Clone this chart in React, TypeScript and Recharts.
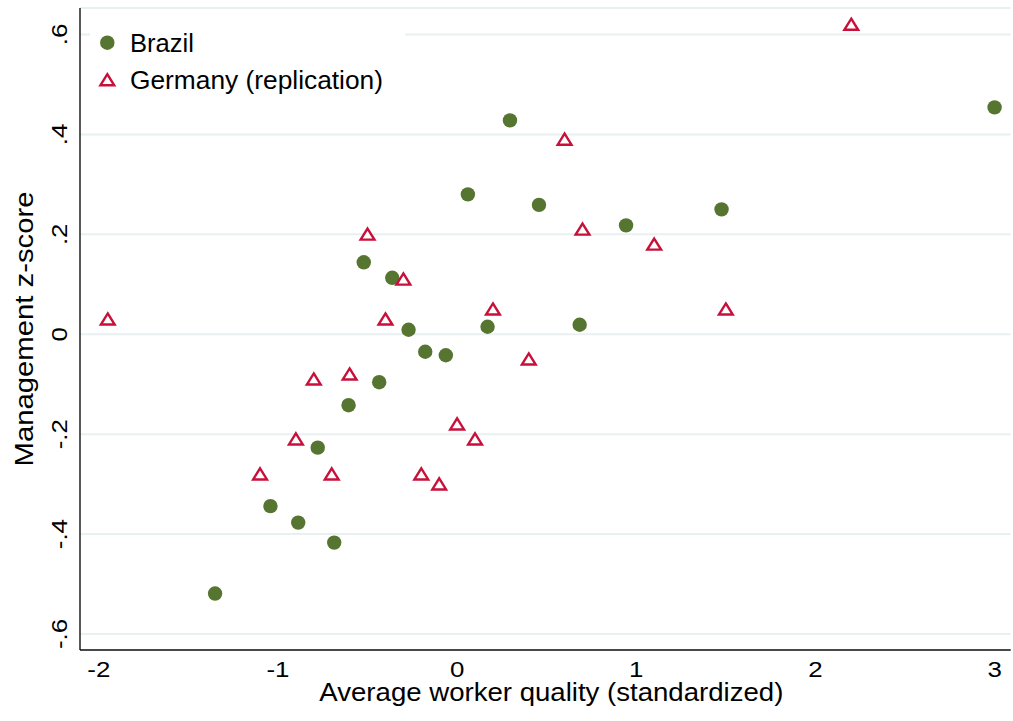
import React from 'react'
import { ScatterChart, Scatter, XAxis, YAxis, CartesianGrid, Legend, Label } from 'recharts'

// Average worker quality (x) vs management z-score (y)
const brazilX = [3.0, 0.295, 0.06, 0.457, 0.943, 1.476, -0.521, -0.362, -0.271, -0.178, -0.063, 0.17, 0.684, -0.435, -0.606, -0.778, -1.042, -0.887, -0.686, -1.351]
const brazilY = [0.454, 0.428, 0.28, 0.259, 0.218, 0.25, 0.144, 0.113, 0.009, -0.035, -0.042, 0.015, 0.019, -0.096, -0.142, -0.227, -0.344, -0.377, -0.417, -0.519]

const germanyX = [2.2, 0.6, -0.5, 0.7, 1.1, -0.3, 0.2, 1.5, -1.95, -0.4, 0.4, -0.8, -0.6, 0.0, 0.1, -0.9, -1.1, -0.7, -0.2, -0.1]
const germanyY = [0.62, 0.39, 0.2, 0.21, 0.18, 0.11, 0.05, 0.05, 0.03, 0.03, -0.05, -0.09, -0.08, -0.18, -0.21, -0.21, -0.28, -0.28, -0.28, -0.3]

const xTicks = [-2, -1, 0, 1, 2, 3]
const yTicks = [-0.6, -0.4, -0.2, 0, 0.2, 0.4, 0.6]

const GREEN = '#567530'
const RED = '#c8103a'
const FONT = 'Liberation Sans, Arial, Helvetica, sans-serif'

// widths of the wide Helvetica-style lettering, used with textLength
const legendWidths = [64, 253]
const TICK_STRETCH = 1.15

const brazil = brazilX.map((x, i) => ({ x, y: brazilY[i] }))
const germany = germanyX.map((x, i) => ({ x, y: germanyY[i] }))

const fmtY = (v: number) => (v === 0 ? '0' : v.toFixed(1).replace('0.', '.'))

const Dot = ({ cx, cy, r = 7.2 }: any) => <circle cx={cx} cy={cy} r={r} fill={GREEN} />

const Tri = ({ cx, cy }: any) => (
  <path
    d={`M${cx},${cy - 5.8} L${cx + 6.9},${cy + 5.3} L${cx - 6.9},${cy + 5.3} Z`}
    fill="#fff"
    stroke={RED}
    strokeWidth={2.4}
  />
)

const XTick = ({ x, payload }: any) => (
  <text
    x={0}
    y={0}
    transform={`translate(${x}, 677) scale(${TICK_STRETCH}, 1)`}
    textAnchor="middle"
    fontSize={22.5}
    fontFamily={FONT}
    fill="#000"
  >
    {payload.value}
  </text>
)

const YTick = ({ y, payload }: any) => (
  <text
    x={0}
    y={0}
    transform={`translate(67, ${y}) rotate(-90) scale(${TICK_STRETCH}, 1)`}
    textAnchor="middle"
    fontSize={22.5}
    fontFamily={FONT}
    fill="#000"
  >
    {fmtY(payload.value)}
  </text>
)

const renderLegend = (props: any) => {
  const items = props.payload || []
  return (
    <svg width={315} height={88} style={{ display: 'block' }}>
      {items.map((it: any, i: number) => {
        const cy = 30.7 + i * 37.3
        return (
          <g key={it.value}>
            {i === 0 ? <Dot cx={17.3} cy={cy} /> : <Tri cx={17.3} cy={cy} />}
            <text
              x={40}
              y={cy + 9}
              fontSize={25}
              fontFamily={FONT}
              fill="#000"
              textLength={legendWidths[i]}
              lengthAdjust="spacingAndGlyphs"
            >
              {it.value}
            </text>
          </g>
        )
      })}
    </svg>
  )
}

export default function App() {
  return (
    <div style={{ position: 'absolute', left: 0, top: 0 }}>
      <ScatterChart width={1013} height={721} margin={{ top: 8, right: 2.3, left: 0, bottom: 0 }}>
        <CartesianGrid horizontal vertical={false} stroke="#e8f0f2" strokeWidth={2} />
        <XAxis
          type="number"
          dataKey="x"
          domain={[-2.105, 3.09]}
          ticks={xTicks}
          allowDataOverflow
          height={71}
          axisLine={{ stroke: '#111', strokeWidth: 1.4 }}
          tickLine={false}
          tick={<XTick />}
        >
          <Label
            content={(p: any) => (
              <text
                x={p.viewBox.x + p.viewBox.width / 2 + 6}
                y={701}
                textAnchor="middle"
                fontSize={25}
                fontFamily={FONT}
                fill="#000"
                textLength={464}
                lengthAdjust="spacingAndGlyphs"
              >
                Average worker quality (standardized)
              </text>
            )}
          />
        </XAxis>
        <YAxis
          type="number"
          dataKey="y"
          domain={[-0.632, 0.653]}
          ticks={yTicks}
          allowDataOverflow
          width={80}
          axisLine={{ stroke: '#111', strokeWidth: 1.4 }}
          tickLine={false}
          tick={<YTick />}
        >
          <Label
            content={(p: any) => {
              const cy = p.viewBox.y + p.viewBox.height / 2
              return (
                <text
                  x={33}
                  y={cy}
                  transform={`rotate(-90, 33, ${cy})`}
                  textAnchor="middle"
                  fontSize={25}
                  fontFamily={FONT}
                  fill="#000"
                  textLength={275}
                  lengthAdjust="spacingAndGlyphs"
                >
                  Management z-score
                </text>
              )
            }}
          />
        </YAxis>
        <Legend
          layout="horizontal"
          verticalAlign="middle"
          align="center"
          content={renderLegend}
          wrapperStyle={{ position: 'absolute', left: 90, top: 12, width: 315, height: 88, background: '#fff' }}
        />
        <Scatter name="Brazil" data={brazil} fill={GREEN} shape={<Dot />} isAnimationActive={false} />
        <Scatter name="Germany (replication)" data={germany} fill={RED} shape={<Tri />} isAnimationActive={false} />
      </ScatterChart>
    </div>
  )
}
